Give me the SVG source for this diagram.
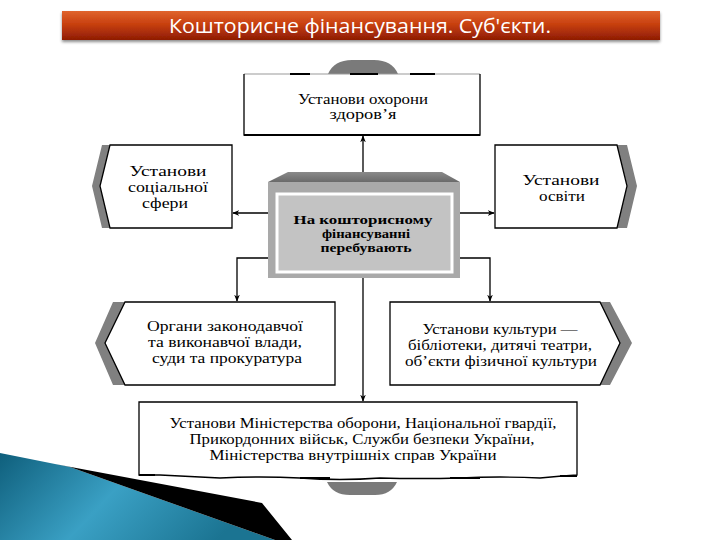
<svg xmlns="http://www.w3.org/2000/svg" width="720" height="540" viewBox="0 0 720 540">
<defs>
<linearGradient id="tg" x1="0" y1="0" x2="0" y2="1">
<stop offset="0" stop-color="#e0642e"/>
<stop offset="0.45" stop-color="#c8400f"/>
<stop offset="1" stop-color="#8e1c04"/>
</linearGradient>
<linearGradient id="teal" x1="0" y1="0" x2="1" y2="0.3">
<stop offset="0" stop-color="#0f5f7c"/>
<stop offset="0.5" stop-color="#3aa0c4"/>
<stop offset="1" stop-color="#1b7492"/>
</linearGradient>
<linearGradient id="bev" x1="0" y1="0" x2="0" y2="1">
<stop offset="0" stop-color="#8a8a8a"/>
<stop offset="1" stop-color="#6a6a6a"/>
</linearGradient>
<filter id="sh" x="-5%" y="-20%" width="110%" height="160%">
<feDropShadow dx="0" dy="2" stdDeviation="1.5" flood-color="#000" flood-opacity="0.45"/>
</filter>
<marker id="ah" viewBox="0 0 10 10" refX="9" refY="5" markerWidth="7" markerHeight="7" orient="auto" markerUnits="userSpaceOnUse">
<path d="M0,1 L10,5 L0,9 L3,5 Z" fill="#000"/>
</marker>
<style>
.box{fill:#fff;stroke:#000;stroke-width:1.3}
.band{fill:#808080}
.t{font-family:"Liberation Serif","Times New Roman",serif;font-size:14px;fill:#000;text-anchor:middle}
.b{font-family:"Liberation Serif","Times New Roman",serif;font-size:13px;font-weight:bold;fill:#000;text-anchor:middle}
.c{fill:none;stroke:#000;stroke-width:1.3}
</style>
</defs>
<rect width="720" height="540" fill="#fff"/>

<g id="decor">
<path d="M0,453 L70,467 L275,540 L0,540 Z" fill="url(#teal)"/>
<path d="M55,464 L262,503 L292,540 L275,540 L70,467 Z" fill="#000"/>
</g>

<g id="title">
<rect x="62" y="11" width="598" height="29" fill="url(#tg)" filter="url(#sh)"/>
<text x="360" y="33" font-family="'Open Sans','DejaVu Sans',sans-serif" font-size="20" fill="#fff" text-anchor="middle" textLength="382" lengthAdjust="spacingAndGlyphs">Кошторисне фінансування. Суб'єкти.</text>
</g>

<g id="connectors">
<line class="c" x1="363" y1="172" x2="363" y2="136" marker-end="url(#ah)"/>
<line class="c" x1="268" y1="213" x2="233" y2="213" marker-end="url(#ah)"/>
<line class="c" x1="460" y1="213" x2="494" y2="213" marker-end="url(#ah)"/>
<polyline class="c" points="268,258 237,258 237,301" marker-end="url(#ah)"/>
<polyline class="c" points="460,258 490,258 490,301" marker-end="url(#ah)"/>
<line class="c" x1="363" y1="278" x2="363" y2="401" marker-end="url(#ah)"/>
</g>

<g id="n-health">
<path d="M328,74 Q334,60 352,60 L374,60 Q392,60 398,74 Z" fill="#7a7a7a"/>
<rect x="244" y="74" width="236" height="61" fill="#fff"/>
<line x1="244" y1="74" x2="480" y2="74" stroke="#999" stroke-width="1"/>
<path d="M290,74 H310 M350,74 H378 M410,74 H435" stroke="#000" stroke-width="2"/>
<path d="M244,74 V135 H480 V74" fill="none" stroke="#000" stroke-width="1.3"/>
<line x1="244" y1="135" x2="480" y2="135" stroke="#000" stroke-width="2.2"/>
<text class="t" x="363" y="104" textLength="130" lengthAdjust="spacingAndGlyphs">Установи охорони</text>
<text class="t" x="363" y="119" textLength="67" lengthAdjust="spacingAndGlyphs">здоров’я</text>
</g>

<g id="n-social">
<path class="band" d="M102,145 L110,145 L100,186 L110,228 L102,228 L92,186 Z"/>
<path class="box" d="M110,145 L232,145 L232,228 L110,228 L100,186 Z"/>
<text class="t" x="168" y="176" textLength="77" lengthAdjust="spacingAndGlyphs">Установи</text>
<text class="t" x="168" y="192" textLength="80" lengthAdjust="spacingAndGlyphs">соціальної</text>
<text class="t" x="165" y="208" textLength="46" lengthAdjust="spacingAndGlyphs">сфери</text>
</g>

<g id="n-edu">
<path class="band" d="M617,145 L627,145 L637,186 L627,228 L617,228 L627,186 Z"/>
<path class="box" d="M495,145 L617,145 L627,186 L617,228 L495,228 Z"/>
<text class="t" x="561" y="185" textLength="77" lengthAdjust="spacingAndGlyphs">Установи</text>
<text class="t" x="562" y="201" textLength="46" lengthAdjust="spacingAndGlyphs">освіти</text>
</g>

<g id="n-center">
<polygon points="288,172 442,172 460,182 268,182" fill="url(#bev)"/>
<rect x="268" y="182" width="192" height="96" fill="#a9a9a9"/>
<rect x="277" y="194" width="175" height="78" fill="#c3c3c3" stroke="#fff" stroke-width="3"/>
<text class="b" x="363" y="224" textLength="139" lengthAdjust="spacingAndGlyphs">На кошторисному</text>
<text class="b" x="366" y="238" textLength="88" lengthAdjust="spacingAndGlyphs">фінансуванні</text>
<text class="b" x="366" y="252" textLength="91" lengthAdjust="spacingAndGlyphs">перебувають</text>
</g>

<g id="n-power">
<path class="band" d="M113,302 L125,302 L105,343 L125,385 L113,385 L95,343 Z"/>
<path class="box" d="M125,302 L335,302 L335,385 L125,385 L105,343 Z"/>
<text class="t" x="225" y="331" textLength="156" lengthAdjust="spacingAndGlyphs">Органи законодавчої</text>
<text class="t" x="225" y="347" textLength="154" lengthAdjust="spacingAndGlyphs">та виконавчої влади,</text>
<text class="t" x="227" y="363" textLength="150" lengthAdjust="spacingAndGlyphs">суди та прокуратура</text>
</g>

<g id="n-culture">
<path class="band" d="M600,302 L610,302 L632,343 L610,385 L600,385 L620,343 Z"/>
<path class="box" d="M390,302 L600,302 L620,343 L600,385 L390,385 Z"/>
<text class="t" x="500" y="334" textLength="155" lengthAdjust="spacingAndGlyphs">Установи культури —</text>
<text class="t" x="500" y="350" textLength="184" lengthAdjust="spacingAndGlyphs">бібліотеки, дитячі театри,</text>
<text class="t" x="501" y="366" textLength="192" lengthAdjust="spacingAndGlyphs">об’єкти фізичної культури</text>
</g>

<g id="n-defence">
<path d="M327,482 Q333,495 350,495 L375,495 Q391,495 397,482 Z" fill="#7a7a7a"/>
<path d="M139,402 H577 V475 Q560,476 540,478 Q500,476 460,478 Q420,479 380,478 Q340,481 300,478 Q260,476 220,478 Q180,476 160,475 L139,475 Z" fill="#fff" stroke="#000" stroke-width="1.3"/>
<path d="M139,475 H155 M300,478 H330 M450,478 H480 M560,476 H577" stroke="#000" stroke-width="2"/>
<text class="t" x="363" y="428" textLength="387" lengthAdjust="spacingAndGlyphs">Установи Міністерства оборони, Національної гвардії,</text>
<text class="t" x="362" y="444" textLength="345" lengthAdjust="spacingAndGlyphs">Прикордонних військ, Служби безпеки України,</text>
<text class="t" x="353" y="460" textLength="287" lengthAdjust="spacingAndGlyphs">Міністерства внутрішніх справ України</text>
</g>
</svg>
